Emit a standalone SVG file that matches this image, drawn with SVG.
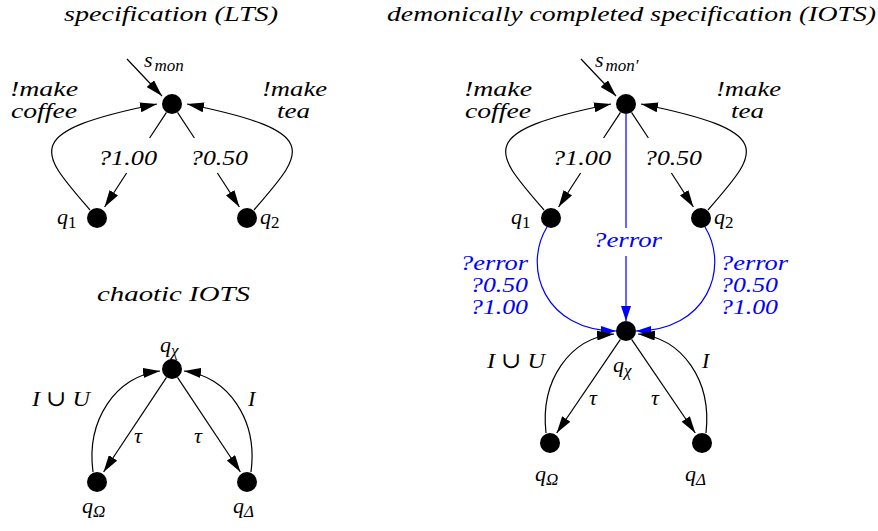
<svg xmlns="http://www.w3.org/2000/svg" width="878" height="531" viewBox="0 0 878 531">
<style>
text{font-family:"Liberation Serif","Times New Roman","DejaVu Serif",serif;font-style:italic;font-size:22px;fill:#000}
.two{font-size:20px}
.sub{font-size:17px}
.up{font-style:normal}
.blue{fill:#0000ff}
.e{fill:none;stroke:#000;stroke-width:1.2}
.eb{fill:none;stroke:#0000ff;stroke-width:1.2}
.n{fill:#000}
</style>
<defs>
<marker id="ah" markerUnits="userSpaceOnUse" markerWidth="17" markerHeight="10" refX="17" refY="5" orient="auto"><path d="M0,0 L17,5 L0,10 z" fill="#000"/></marker>
<marker id="ahb" markerUnits="userSpaceOnUse" markerWidth="15" markerHeight="10" refX="15" refY="5" orient="auto"><path d="M0,0 L15,5 L0,10 z" fill="#0000ff"/></marker>
</defs>
<rect width="878" height="531" fill="#fff"/>

<g id="titles">
<text x="64" y="21" textLength="214" lengthAdjust="spacingAndGlyphs">specification (LTS)</text>
<text x="387" y="21" textLength="489" lengthAdjust="spacingAndGlyphs">demonically completed specification (IOTS)</text>
<text x="97" y="301" textLength="153" lengthAdjust="spacingAndGlyphs">chaotic IOTS</text>
</g>

<g id="connectors">
<path class="e" d="M127 59 L162 96" marker-end="url(#ah)"/>
<path class="e" d="M90 210 C40 152, 18 132, 157 104" marker-end="url(#ah)"/>
<path class="e" d="M254 210 C304 152, 326 132, 187 104" marker-end="url(#ah)"/>
<path class="e" d="M166.5 112.4 L149.6 138"/>
<path class="e" d="M126.6 173 L104.6 207" marker-end="url(#ah)"/>
<path class="e" d="M177.5 112.4 L194.4 138"/>
<path class="e" d="M217.4 173 L239.4 207" marker-end="url(#ah)"/>
<path class="e" d="M93 472 C86 420, 116 376, 160 371" marker-end="url(#ah)"/>
<path class="e" d="M251 472 C258 420, 228 376, 184 371" marker-end="url(#ah)"/>
<path class="e" d="M166.5 377.3 L103.6 472" marker-end="url(#ah)"/>
<path class="e" d="M177.5 377.3 L240.4 472" marker-end="url(#ah)"/>
<path class="e" d="M581 59 L616 96" marker-end="url(#ah)"/>
<path class="e" d="M544 210 C494 152, 472 132, 611 104" marker-end="url(#ah)"/>
<path class="e" d="M708 210 C758 152, 780 132, 641 104" marker-end="url(#ah)"/>
<path class="e" d="M620.5 112.4 L603.6 138"/>
<path class="e" d="M580.6 173 L558.6 207" marker-end="url(#ah)"/>
<path class="e" d="M631.5 112.4 L648.4 138"/>
<path class="e" d="M671.4 173 L693.4 207" marker-end="url(#ah)"/>
<path class="eb" d="M626 114 L626 228"/>
<path class="eb" d="M626 256 L626 321" marker-end="url(#ahb)"/>
<path class="eb" d="M547 227 C522 268, 545 331, 616 331" marker-end="url(#ahb)"/>
<path class="eb" d="M705 227 C730 268, 707 331, 636 331" marker-end="url(#ahb)"/>
<path class="e" d="M546 433 C540 380, 570 338, 614 334" marker-end="url(#ah)"/>
<path class="e" d="M706 433 C712 380, 682 338, 638 334" marker-end="url(#ah)"/>
<path class="e" d="M620.4 339.3 L556.7 433" marker-end="url(#ah)"/>
<path class="e" d="M631.6 339.3 L695.3 433" marker-end="url(#ah)"/>
</g>

<g id="edge-labels">
<text class="two" x="10" y="96" textLength="68" lengthAdjust="spacingAndGlyphs">!make</text>
<text class="two" x="11" y="118" textLength="66" lengthAdjust="spacingAndGlyphs">coffee</text>
<text class="two" x="262" y="96" textLength="65" lengthAdjust="spacingAndGlyphs">!make</text>
<text class="two" x="277" y="118" textLength="33" lengthAdjust="spacingAndGlyphs">tea</text>
<text x="98" y="165" textLength="59" lengthAdjust="spacingAndGlyphs">?1.00</text>
<text x="190" y="165" textLength="58" lengthAdjust="spacingAndGlyphs">?0.50</text>

<text x="32" y="406" textLength="58" lengthAdjust="spacingAndGlyphs">I<tspan class="up"> ∪ </tspan>U</text>
<text x="248" y="406">I</text>
<text x="138" y="443" text-anchor="middle">τ</text>
<text x="198" y="443" text-anchor="middle">τ</text>

<text class="two" x="464" y="96" textLength="68" lengthAdjust="spacingAndGlyphs">!make</text>
<text class="two" x="465" y="118" textLength="66" lengthAdjust="spacingAndGlyphs">coffee</text>
<text class="two" x="716" y="96" textLength="65" lengthAdjust="spacingAndGlyphs">!make</text>
<text class="two" x="731" y="118" textLength="33" lengthAdjust="spacingAndGlyphs">tea</text>
<text x="552" y="165" textLength="59" lengthAdjust="spacingAndGlyphs">?1.00</text>
<text x="644" y="165" textLength="58" lengthAdjust="spacingAndGlyphs">?0.50</text>

<text class="blue" x="593" y="247" textLength="69" lengthAdjust="spacingAndGlyphs">?error</text>
<text class="blue two" x="528" y="270" text-anchor="end" textLength="68" lengthAdjust="spacingAndGlyphs">?error</text>
<text class="blue two" x="528" y="292" text-anchor="end" textLength="58" lengthAdjust="spacingAndGlyphs">?0.50</text>
<text class="blue two" x="528" y="314" text-anchor="end" textLength="58" lengthAdjust="spacingAndGlyphs">?1.00</text>
<text class="blue two" x="720" y="270" textLength="68" lengthAdjust="spacingAndGlyphs">?error</text>
<text class="blue two" x="720" y="292" textLength="58" lengthAdjust="spacingAndGlyphs">?0.50</text>
<text class="blue two" x="720" y="314" textLength="58" lengthAdjust="spacingAndGlyphs">?1.00</text>

<text x="487" y="368" textLength="58" lengthAdjust="spacingAndGlyphs">I<tspan class="up"> ∪ </tspan>U</text>
<text x="702" y="368">I</text>
<text x="593" y="405" text-anchor="middle">τ</text>
<text x="655" y="405" text-anchor="middle">τ</text>
</g>

<g id="s_mon"><circle class="n" cx="172" cy="104" r="10"/><text x="144" y="67">s<tspan class="sub" dx="2" dy="4">mon</tspan></text></g>
<g id="q1_lts"><circle class="n" cx="97" cy="218" r="10"/><text x="57" y="224">q<tspan class="sub up" dy="4">1</tspan></text></g>
<g id="q2_lts"><circle class="n" cx="247" cy="218" r="10"/><text x="260" y="224">q<tspan class="sub up" dy="4">2</tspan></text></g>

<g id="qchi_chaotic"><circle class="n" cx="172" cy="369" r="10"/><text x="160" y="352">q<tspan class="sub" dy="4">χ</tspan></text></g>
<g id="qomega_chaotic"><circle class="n" cx="97" cy="482" r="10"/><text x="82" y="513">q<tspan class="sub" dy="4">Ω</tspan></text></g>
<g id="qdelta_chaotic"><circle class="n" cx="247" cy="482" r="10"/><text x="233" y="513">q<tspan class="sub" dy="4">Δ</tspan></text></g>

<g id="s_mon_prime"><circle class="n" cx="626" cy="104" r="10"/><text x="595" y="67">s<tspan class="sub" dx="2" dy="4">mon′</tspan></text></g>
<g id="q1_iots"><circle class="n" cx="551" cy="218" r="10"/><text x="511" y="224">q<tspan class="sub up" dy="4">1</tspan></text></g>
<g id="q2_iots"><circle class="n" cx="701" cy="218" r="10"/><text x="714" y="224">q<tspan class="sub up" dy="4">2</tspan></text></g>
<g id="qchi_iots"><circle class="n" cx="626" cy="331" r="10"/><text x="613" y="372">q<tspan class="sub" dy="4">χ</tspan></text></g>
<g id="qomega_iots"><circle class="n" cx="550" cy="443" r="10"/><text x="535" y="481">q<tspan class="sub" dy="4">Ω</tspan></text></g>
<g id="qdelta_iots"><circle class="n" cx="702" cy="443" r="10"/><text x="685" y="481">q<tspan class="sub" dy="4">Δ</tspan></text></g>
</svg>
